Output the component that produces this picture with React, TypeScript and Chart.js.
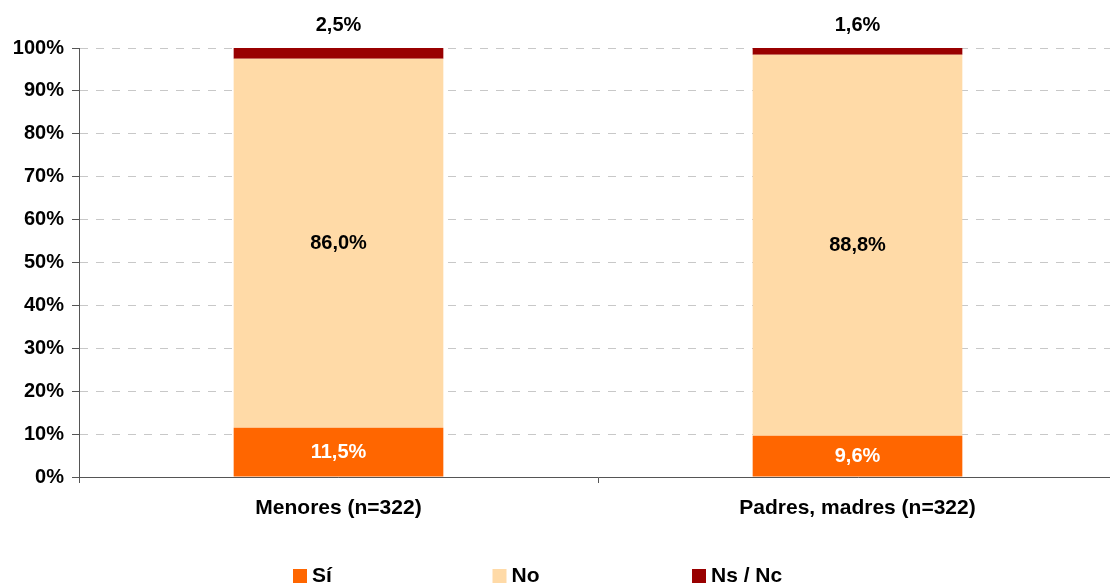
import React, { useEffect, useRef } from "react";
import { Chart, registerables } from "chart.js";

Chart.register(...registerables);

const categories = ["Menores (n=322)", "Padres, madres (n=322)"];
const seriesNames = ["Sí", "No", "Ns / Nc"];
const siValues = [11.5, 9.6];
const noValues = [86.0, 88.8];
const nsncValues = [2.5, 1.6];
const yTicks = [0, 10, 20, 30, 40, 50, 60, 70, 80, 90, 100];
const colors = ["#FF6600", "#FFDAA7", "#990000"];

const FONT = "'Liberation Sans', Arial, sans-serif";

const fmt = (v: number) => v.toFixed(1).replace(".", ",") + "%";

const labelsPlugin = {
  id: "barLabels",
  afterDatasetsDraw(chart: any) {
    const ctx = chart.ctx;
    ctx.save();
    ctx.font = `bold 20px ${FONT}`;
    ctx.textAlign = "center";
    ctx.textBaseline = "middle";
    chart.data.datasets.forEach((ds: any, di: number) => {
      const meta = chart.getDatasetMeta(di);
      meta.data.forEach((el: any, i: number) => {
        const v = ds.data[i];
        const { x, y, base } = el.getProps(["x", "y", "base"], true);
        if (di === 0) {
          ctx.fillStyle = "#FFFFFF";
          ctx.fillText(fmt(v), x, (y + base) / 2);
        } else if (di === 1) {
          ctx.fillStyle = "#000000";
          ctx.fillText(fmt(v), x, (y + base) / 2);
        } else {
          ctx.fillStyle = "#000000";
          ctx.fillText(fmt(v), x, y - 23);
        }
      });
    });
    ctx.restore();
  },
};

const legendPlugin = {
  id: "customLegend",
  afterDraw(chart: any) {
    const ctx = chart.ctx;
    ctx.save();
    ctx.font = `bold 21px ${FONT}`;
    ctx.textAlign = "left";
    ctx.textBaseline = "alphabetic";
    const startX = 293;
    const step = 199.5;
    const boxTop = 569;
    chart.data.datasets.forEach((ds: any, i: number) => {
      const x = startX + i * step;
      ctx.fillStyle = ds.backgroundColor;
      ctx.fillRect(x, boxTop, 14, 14);
      ctx.fillStyle = "#000000";
      ctx.fillText(ds.label, x + 19, 582);
    });
    ctx.restore();
  },
};

export default function App() {
  const ref = useRef<HTMLCanvasElement | null>(null);
  useEffect(() => {
    document.body.style.margin = "0";
    if (!ref.current) return;
    const chart = new Chart(ref.current, {
      type: "bar",
      data: {
        labels: categories,
        datasets: [
          { label: seriesNames[0], data: siValues, backgroundColor: colors[0] },
          { label: seriesNames[1], data: noValues, backgroundColor: colors[1] },
          { label: seriesNames[2], data: nsncValues, backgroundColor: colors[2] },
        ],
      },
      options: {
        responsive: false,
        animation: false,
        devicePixelRatio: 1,
        layout: { padding: { top: 48, left: 0, right: 0, bottom: 0 } },
        plugins: {
          legend: { display: false },
          tooltip: { enabled: false },
        },
        datasets: {
          bar: { barPercentage: 0.404, categoryPercentage: 1 },
        } as any,
        scales: {
          x: {
            stacked: true,
            grid: {
              offset: true,
              drawOnChartArea: false,
              drawTicks: true,
              tickLength: 6,
              tickColor: "#555555",
              color: "#555555",
            },
            border: { display: true, color: "#555555", width: 1 },
            ticks: {
              color: "#000000",
              padding: 13,
              font: { family: FONT, size: 21, weight: "bold" },
            },
            afterFit(scale: any) {
              scale.height = 106;
            },
          },
          y: {
            stacked: true,
            min: 0,
            max: 100,
            afterBuildTicks(scale: any) {
              scale.ticks = yTicks.map((v) => ({ value: v }));
            },
            grid: {
              color: "#C8C8C8",
              lineWidth: 1,
              tickLength: 7,
              tickColor: "#555555",
              tickBorderDash: [],
            } as any,
            border: { display: true, color: "#555555", width: 1, dash: [8, 8] },
            ticks: {
              color: "#000000",
              padding: 8,
              font: { family: FONT, size: 20, weight: "bold" },
              callback: (v: any) => `${v}%`,
            },
            afterFit(scale: any) {
              scale.width = 79;
            },
          },
        },
      },
      plugins: [labelsPlugin, legendPlugin],
    });
    return () => chart.destroy();
  }, []);
  return (
    <div
      style={{
        position: "fixed",
        left: 0,
        top: 0,
        width: 1110,
        height: 583,
        overflow: "hidden",
      }}
    >
      <canvas ref={ref} width={1117} height={583} style={{ display: "block" }} />
    </div>
  );
}
